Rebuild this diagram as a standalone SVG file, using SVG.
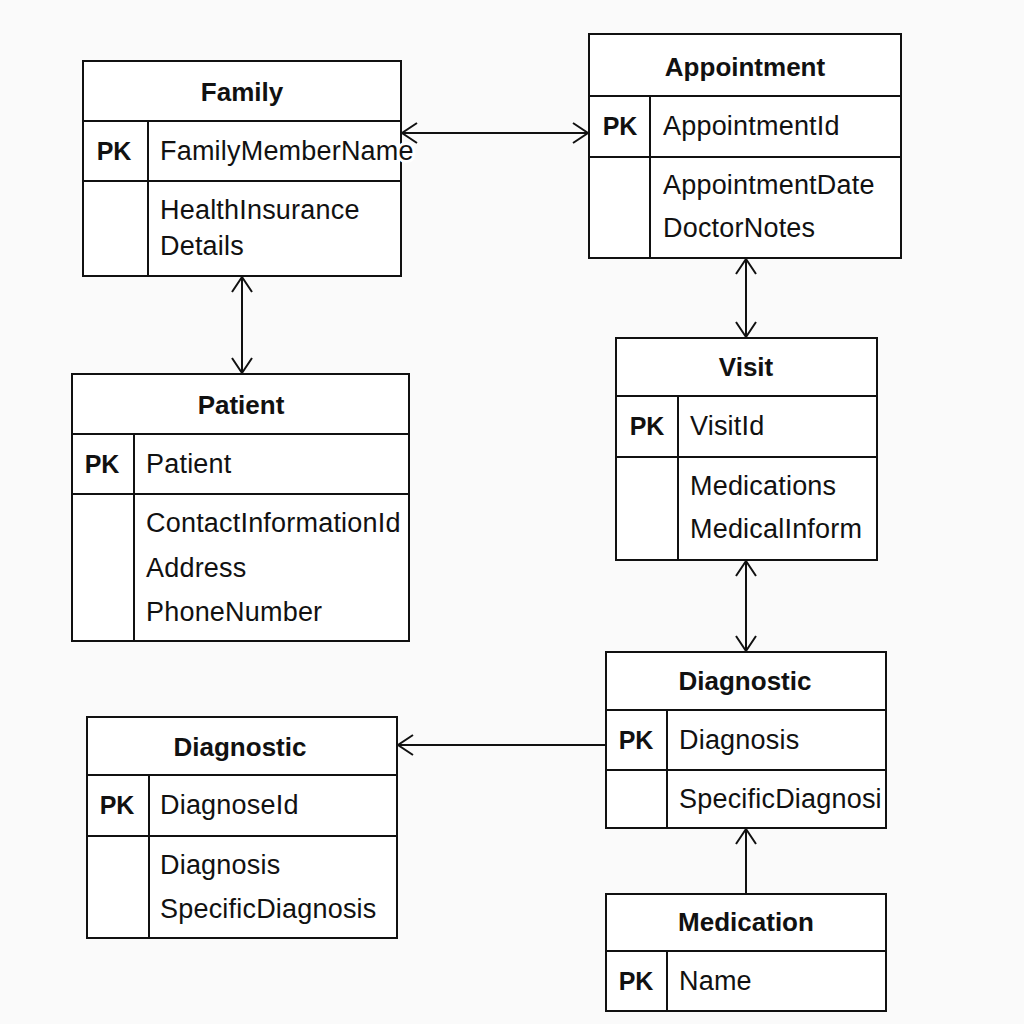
<svg xmlns="http://www.w3.org/2000/svg" width="1024" height="1024" viewBox="0 0 1024 1024">
<defs>
<style>
.box{fill:#ffffff;stroke:#111;stroke-width:2}
.ln{stroke:#111;stroke-width:2;fill:none}
.t{font-family:"Liberation Sans",Arial,sans-serif;font-weight:bold;font-size:26px;fill:#111;text-anchor:middle}
.pk{font-family:"Liberation Sans",Arial,sans-serif;font-weight:bold;font-size:25px;fill:#111;text-anchor:middle}
.f{font-family:"Liberation Sans",Arial,sans-serif;font-size:27px;letter-spacing:0.2px;fill:#111}
.halo{stroke:#ffffff;stroke-width:6;paint-order:stroke;stroke-linejoin:round}
.c{stroke:#111;stroke-width:2;fill:none;marker-end:url(#ah)}
.cb{stroke:#111;stroke-width:2;fill:none;marker-start:url(#ah);marker-end:url(#ah)}
</style>
<marker id="ah" markerUnits="userSpaceOnUse" markerWidth="22" markerHeight="24" refX="17" refY="11" orient="auto-start-reverse" viewBox="0 0 22 24">
<path d="M2,1 L17,11 L2,21" fill="none" stroke="#111" stroke-width="2"/>
</marker>
</defs>
<rect width="1024" height="1024" fill="#fafafa"/>

<g id="connectors">
<line class="cb" x1="402" y1="133" x2="588" y2="133"/>
<line class="cb" x1="242" y1="277" x2="242" y2="373"/>
<line class="cb" x1="746" y1="259" x2="746" y2="337"/>
<line class="cb" x1="746" y1="561" x2="746" y2="651"/>
<line class="c" x1="606" y1="745" x2="398" y2="745"/>
<line class="c" x1="746" y1="894" x2="746" y2="829"/>
</g>

<g id="family">
<rect class="box" x="83" y="61" width="318" height="215"/>
<line class="ln" x1="83" y1="121" x2="401" y2="121"/>
<line class="ln" x1="83" y1="181" x2="401" y2="181"/>
<line class="ln" x1="148" y1="121" x2="148" y2="276"/>
<text class="t" x="242" y="101">Family</text>
<text class="pk" x="114" y="160">PK</text>
<text class="f halo" x="160" y="160">FamilyMemberName</text>
<text class="f" x="160" y="219">HealthInsurance</text>
<text class="f" x="160" y="255">Details</text>
</g>

<g id="appointment">
<rect class="box" x="589" y="34" width="312" height="224"/>
<line class="ln" x1="589" y1="96" x2="901" y2="96"/>
<line class="ln" x1="589" y1="157" x2="901" y2="157"/>
<line class="ln" x1="650" y1="96" x2="650" y2="258"/>
<text class="t" x="745" y="76">Appointment</text>
<text class="pk" x="620" y="135">PK</text>
<text class="f" x="663" y="135">AppointmentId</text>
<text class="f" x="663" y="194">AppointmentDate</text>
<text class="f" x="663" y="237">DoctorNotes</text>
</g>

<g id="visit">
<rect class="box" x="616" y="338" width="261" height="222"/>
<line class="ln" x1="616" y1="396" x2="877" y2="396"/>
<line class="ln" x1="616" y1="457" x2="877" y2="457"/>
<line class="ln" x1="678" y1="396" x2="678" y2="560"/>
<text class="t" x="746" y="376">Visit</text>
<text class="pk" x="647" y="435">PK</text>
<text class="f" x="690" y="435">VisitId</text>
<text class="f" x="690" y="495">Medications</text>
<text class="f" x="690" y="538">MedicalInform</text>
</g>

<g id="diagnostic-right">
<rect class="box" x="606" y="652" width="280" height="176"/>
<line class="ln" x1="606" y1="710" x2="886" y2="710"/>
<line class="ln" x1="606" y1="770" x2="886" y2="770"/>
<line class="ln" x1="667" y1="710" x2="667" y2="828"/>
<text class="t" x="745" y="690">Diagnostic</text>
<text class="pk" x="636" y="749">PK</text>
<text class="f" x="679" y="749">Diagnosis</text>
<text class="f" x="679" y="808">SpecificDiagnosi</text>
</g>

<g id="medication">
<rect class="box" x="606" y="894" width="280" height="117"/>
<line class="ln" x1="606" y1="951" x2="886" y2="951"/>
<line class="ln" x1="667" y1="951" x2="667" y2="1011"/>
<text class="t" x="746" y="931">Medication</text>
<text class="pk" x="636" y="990">PK</text>
<text class="f" x="679" y="990">Name</text>
</g>

<g id="patient">
<rect class="box" x="72" y="374" width="337" height="267"/>
<line class="ln" x1="72" y1="434" x2="409" y2="434"/>
<line class="ln" x1="72" y1="494" x2="409" y2="494"/>
<line class="ln" x1="134" y1="434" x2="134" y2="641"/>
<text class="t" x="241" y="414">Patient</text>
<text class="pk" x="102" y="473">PK</text>
<text class="f" x="146" y="473">Patient</text>
<text class="f" x="146" y="532">ContactInformationId</text>
<text class="f" x="146" y="577">Address</text>
<text class="f" x="146" y="621">PhoneNumber</text>
</g>

<g id="diagnostic-left">
<rect class="box" x="87" y="717" width="310" height="221"/>
<line class="ln" x1="87" y1="775" x2="397" y2="775"/>
<line class="ln" x1="87" y1="836" x2="397" y2="836"/>
<line class="ln" x1="149" y1="775" x2="149" y2="938"/>
<text class="t" x="240" y="756">Diagnostic</text>
<text class="pk" x="117" y="814">PK</text>
<text class="f" x="160" y="814">DiagnoseId</text>
<text class="f" x="160" y="874">Diagnosis</text>
<text class="f" x="160" y="918">SpecificDiagnosis</text>
</g>
</svg>
